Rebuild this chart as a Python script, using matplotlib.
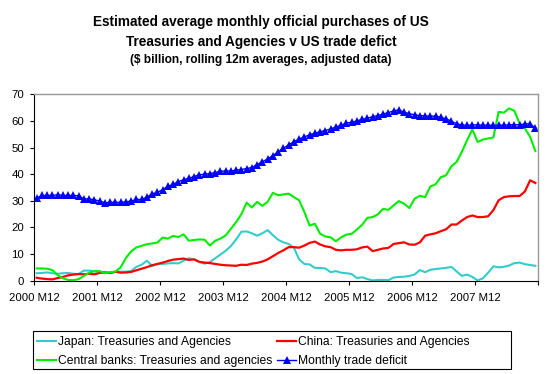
import numpy as np
import matplotlib
matplotlib.use('Agg')
import matplotlib.pyplot as plt
from matplotlib.patches import Rectangle

plt.rcParams['font.family'] = ['Liberation Sans', 'DejaVu Sans']

# monthly data, Dec 2000 .. Nov 2008 (96 months)
japan = [2.8, 2.9, 3.1, 2.8, 2.6, 2.8, 2.9, 2.6, 2.5, 3.8, 3.8, 3.5,
         3.3, 3.0, 3.0, 3.2, 3.4, 3.4, 3.6, 5.2, 6.0, 7.5, 5.6, 6.2,
         6.3, 6.5, 6.6, 6.5, 7.5, 8.4, 8.0, 7.0, 6.4, 7.0, 8.4, 9.8,
         11.2, 13.0, 15.5, 18.4, 18.5, 17.8, 16.9, 17.8, 19.0, 17.1, 15.4, 14.4,
         13.8, 12.4, 8.0, 6.3, 6.1, 4.8, 4.8, 4.6, 3.2, 3.6, 3.0, 2.8,
         2.5, 1.0, 1.3, 0.6, 0.1, 0.3, 0.3, 0.2, 1.2, 1.4, 1.5, 1.8,
         2.3, 4.0, 3.2, 4.1, 4.4, 4.6, 4.8, 5.2, 3.5, 1.8, 2.3, 1.4,
         0.1, 0.9, 3.0, 5.4, 5.0, 5.2, 5.7, 6.6, 6.8, 6.2, 5.9, 5.6]

china = [1.1, 0.8, 0.6, 0.5, 1.0, 1.4, 2.0, 2.3, 2.5, 2.4, 2.6, 2.4,
         2.9, 3.1, 2.9, 3.4, 3.0, 3.1, 3.3, 3.9, 4.5, 5.1, 5.8, 6.3,
         6.8, 7.4, 7.9, 8.1, 8.3, 7.8, 8.0, 7.1, 6.8, 6.6, 6.3, 6.0,
         5.8, 5.7, 5.6, 6.0, 5.9, 6.4, 6.7, 7.2, 8.0, 9.2, 10.4, 11.4,
         12.6, 12.6, 12.4, 13.2, 14.2, 14.7, 13.6, 12.9, 12.6, 11.6, 11.4, 11.6,
         11.6, 11.8, 12.5, 12.8, 11.1, 11.6, 12.1, 12.3, 13.8, 14.1, 14.4, 13.6,
         13.5, 14.4, 16.9, 17.4, 17.8, 18.6, 19.3, 21.1, 21.1, 22.6, 23.9, 24.5,
         23.9, 23.9, 24.2, 26.5, 30.2, 31.4, 31.7, 31.8, 31.8, 33.5, 37.7, 36.7]

central_banks = [4.6, 4.6, 4.5, 4.0, 2.1, 0.9, 0.3, 0.2, 0.6, 1.8, 3.0, 3.6,
                 3.6, 2.8, 3.2, 3.4, 5.0, 8.5, 11.0, 12.5, 13.1, 13.7, 14.0, 14.3,
                 16.2, 15.8, 16.8, 16.4, 17.4, 15.0, 15.3, 15.5, 15.4, 13.2, 15.0, 15.8,
                 17.0, 19.5, 22.0, 25.0, 29.3, 27.5, 29.6, 28.1, 29.6, 33.0, 32.1, 32.4,
                 32.7, 31.4, 30.2, 25.8, 20.7, 21.4, 17.6, 16.6, 16.3, 14.8, 16.3, 17.3,
                 17.6, 19.2, 21.0, 23.6, 23.9, 24.9, 27.0, 26.6, 28.3, 29.9, 28.9, 27.3,
                 30.8, 31.9, 31.4, 35.4, 36.2, 38.9, 39.6, 43.0, 44.6, 48.4, 52.8, 56.8,
                 52.1, 53.0, 53.4, 53.8, 63.4, 63.1, 64.7, 63.8, 59.0, 57.2, 54.0, 48.7]

trade_deficit = [31.1, 32.0, 32.0, 32.0, 32.3, 32.0, 32.0, 32.0, 31.9, 30.7, 30.7, 30.4,
                 29.9, 29.3, 29.4, 29.4, 29.4, 29.6, 29.9, 30.5, 30.5, 31.4, 32.6, 33.2,
                 34.2, 35.4, 36.2, 37.2, 37.9, 38.5, 39.1, 39.8, 40.0, 40.2, 40.6, 41.1,
                 41.2, 41.2, 41.5, 41.75, 42.1, 42.5, 43.6, 44.7, 45.7, 47.0, 48.4, 49.8,
                 51.0, 52.2, 53.2, 54.0, 54.8, 55.4, 55.9, 56.4, 57.0, 57.7, 58.4, 59.2,
                 59.5, 60.0, 60.6, 61.0, 61.6, 62.0, 62.6, 63.1, 63.8, 64.1, 63.3, 62.7,
                 62.3, 62.0, 61.9, 61.8, 61.8, 61.3, 60.8, 59.9, 58.9, 58.5, 58.3, 58.5,
                 58.5, 58.4, 58.4, 58.3, 58.4, 58.4, 58.5, 58.6, 58.6, 58.8, 59.0, 57.2]

tick_labels = ['2000 M12', '2001 M12', '2002 M12', '2003 M12',
               '2004 M12', '2005 M12', '2006 M12', '2007 M12', '']

x = np.arange(len(trade_deficit)) + 0.5

fig = plt.figure(figsize=(5.47, 3.74), dpi=100)
ax = fig.add_axes([34 / 547, 93.3 / 374, 504 / 547, 186.4 / 374])

l_jp, = ax.plot(x, japan, color='#33CCCC', lw=1.5)
l_cn, = ax.plot(x, china, color='#FF0000', lw=1.6)
l_cb, = ax.plot(x, central_banks, color='#00EE00', lw=1.5)
l_td, = ax.plot(x, trade_deficit, color='#0000FF', lw=1.0, marker='^', ms=6,
                markeredgewidth=0)

ax.set_xlim(0, 96)
ax.set_ylim(0, 70)
ax.set_xticks(np.arange(0, 97, 12))
ax.set_xticklabels(tick_labels)
ax.set_yticks(np.arange(0, 71, 10))
ax.tick_params(labelsize=8.2, length=3, width=0.8, color='black', pad=2)
ax.tick_params(axis='x', pad=6)
ax.tick_params(axis='y', pad=4)

for s in ['top', 'right']:
    ax.spines[s].set_color('#999999')
    ax.spines[s].set_linewidth(1.0)
for s in ['left', 'bottom']:
    ax.spines[s].set_color('black')
    ax.spines[s].set_linewidth(0.8)

cx = 261 / 547
fig.text(cx, 1 - 22 / 374, 'Estimated average monthly official purchases of US',
         ha='center', va='center', fontsize=9.85, fontweight='bold')
fig.text(cx, 1 - 42 / 374, 'Treasuries and Agencies v US trade defict',
         ha='center', va='center', fontsize=9.85, fontweight='bold')
fig.text(cx, 1 - 60 / 374, '($ billion, rolling 12m averages, adjusted data)',
         ha='center', va='center', fontsize=8.6, fontweight='bold')

# column-wise fill: Japan / Central banks | China / trade deficit
handles = [l_jp, l_cb, l_cn, l_td]
labels = ['Japan: Treasuries and Agencies', 'Central banks: Treasuries and agencies',
          'China: Treasuries and Agencies', 'Monthly trade deficit']
leg = fig.legend(handles, labels, loc='upper left', bbox_to_anchor=(37 / 547, 1 - 336 / 374),
                 ncol=2, fontsize=8.75, frameon=False,
                 handlelength=1.6, handletextpad=0.1, columnspacing=0.4,
                 borderpad=0, labelspacing=0.6, borderaxespad=0)

# legend box is wider than its contents in the original
fig.patches.append(Rectangle((33 / 547, 5 / 374), 478 / 547, 38 / 374,
                             transform=fig.transFigure, fill=False,
                             edgecolor='black', linewidth=0.8))

fig.savefig('out.png', dpi=100)
